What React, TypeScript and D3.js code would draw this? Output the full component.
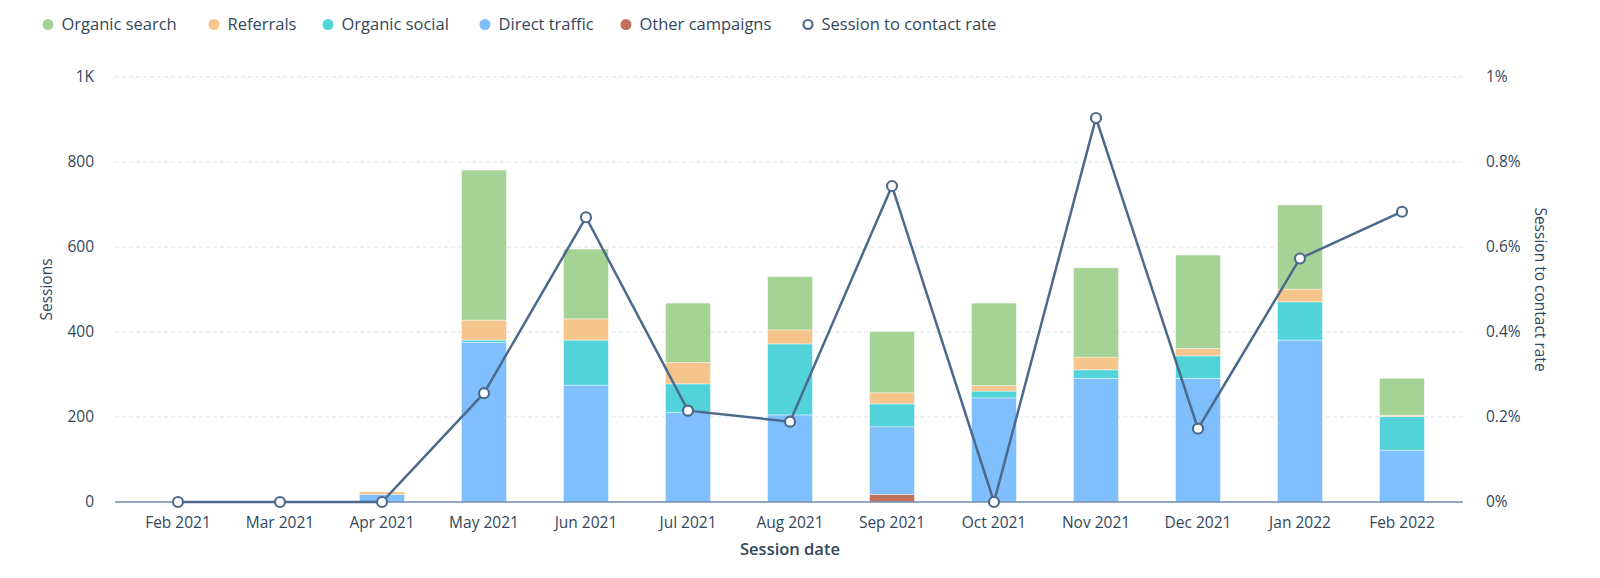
import React from "react";
import * as d3 from "d3";

const months = ["Feb 2021","Mar 2021","Apr 2021","May 2021","Jun 2021","Jul 2021","Aug 2021","Sep 2021","Oct 2021","Nov 2021","Dec 2021","Jan 2022","Feb 2022"];
const organicSearch = [0,0,0,353,164,140,125,144,194,210,220,198,87];
const referrals = [0,0,6,47,50,50,33,26,13,30,17,30,3];
const organicSocial = [0,0,0,6,106,67,167,54,16,20,53,90,79];
const directTraffic = [0,0,18,375,275,211,205,159,245,291,291,381,122];
const otherCampaigns = [0,0,0,0,0,0,0,18,0,0,0,0,0];
const contactRate = [0,0,0,0.256,0.670,0.215,0.189,0.7435,0,0.9035,0.1725,0.573,0.683];
const leftTicks = [0,200,400,600,800,1000];
const leftTickLabels = ["0","200","400","600","800","1K"];
const rightTicks = [0,0.2,0.4,0.6,0.8,1];
const rightTickLabels = ["0%","0.2%","0.4%","0.6%","0.8%","1%"];

const seriesKeys = ["other","direct","social","referrals","search"];
const colors: Record<string,string> = {search:"#a5d395",referrals:"#f5c58b",social:"#52d3d9",direct:"#80bffd",other:"#c3705c"};
const lineColor = "#4c6a8c";
const textColor = "#33475b";
const font = "'Open Sans', Lato, sans-serif";

const legendItems = [
  {name:"Organic search", color:colors.search, x:48},
  {name:"Referrals", color:colors.referrals, x:214},
  {name:"Organic social", color:colors.social, x:328},
  {name:"Direct traffic", color:colors.direct, x:485},
  {name:"Other campaigns", color:colors.other, x:626},
  {name:"Session to contact rate", color:lineColor, x:808, hollow:true},
];

export default function App() {
  const W = 1600, H = 578;
  const top = 77, bottom = 502;
  const gridL = 115, gridR = 1463;
  const x = d3.scaleBand<string>().domain(months).range([127, 1453]).paddingInner(0.56).paddingOuter(0.28);
  const yL = d3.scaleLinear().domain([0,1000]).range([bottom, top]);
  const yR = d3.scaleLinear().domain([0,1]).range([bottom, top]);
  const rows = months.map((m,i)=>({month:m, search:organicSearch[i], referrals:referrals[i], social:organicSocial[i], direct:directTraffic[i], other:otherCampaigns[i]}));
  const stacked = d3.stack<any>().keys(seriesKeys)(rows);
  const cx = (m:string)=> (x(m) as number) + x.bandwidth()/2;
  const line = d3.line<number>().x((_,i)=>cx(months[i])).y(d=>yR(d));

  return (
    <div style={{position:"absolute", left:0, top:0}}>
      <svg width={W} height={H} style={{display:"block", fontFamily:font}}>
        <rect width={W} height={H} fill="#fff"/>
        {legendItems.map(it=>(
          <g key={it.name}>
            {it.hollow ? <circle cx={it.x} cy={24.5} r={4.5} fill="#fff" stroke={it.color} strokeWidth={2.2}/> : <circle cx={it.x} cy={24.5} r={5.5} fill={it.color}/>}
            <text x={it.x+13.5} y={24.5} dy="0.35em" fontSize={16.5} fill={textColor}>{it.name}</text>
          </g>
        ))}
        {leftTicks.map((t,i)=> i===0 ? null : (
          <line key={t} x1={gridL} x2={gridR} y1={yL(t)} y2={yL(t)} stroke="#dbe1ea" strokeDasharray="4,3" strokeWidth={1}/>
        ))}
        {leftTicks.map((t,i)=>(
          <text key={"l"+t} x={94} y={yL(t)} dy="0.35em" textAnchor="end" fontSize={15.5} fill={textColor}>{leftTickLabels[i]}</text>
        ))}
        {rightTicks.map((t,i)=>(
          <text key={"r"+t} x={1486} y={yR(t)} dy="0.35em" textAnchor="start" fontSize={15.5} fill={textColor}>{rightTickLabels[i]}</text>
        ))}
        <text transform={`translate(47,${(top+bottom)/2}) rotate(-90)`} textAnchor="middle" dy="0.35em" fontSize={15.5} fill={textColor}>Sessions</text>
        <text transform={`translate(1540,${(top+bottom)/2}) rotate(90)`} textAnchor="middle" dy="0.35em" fontSize={15.5} fill={textColor}>Session to contact rate</text>
        {stacked.map(s=>(
          <g key={s.key} fill={colors[s.key]}>
            {s.map((d,i)=> d[1]-d[0] > 0 ? (
              <rect key={i} x={x(months[i])} width={x.bandwidth()} y={yL(d[1])} height={yL(d[0])-yL(d[1])} stroke="#ffffff" strokeOpacity={0.5} strokeWidth={0.8}/>
            ) : null)}
          </g>
        ))}
        <line x1={gridL} x2={gridR} y1={bottom} y2={bottom} stroke="#6f8bab" strokeWidth={1.5}/>
        {months.map(m=>(
          <text key={"x"+m} x={cx(m)} y={523} dy="0.35em" textAnchor="middle" fontSize={15.5} fill={textColor}>{m}</text>
        ))}
        <text x={790} y={549} dy="0.35em" textAnchor="middle" fontSize={16.5} fontWeight={600} fill={textColor}>Session date</text>
        <path d={line(contactRate) || ""} fill="none" stroke={lineColor} strokeWidth={2.5}/>
        {contactRate.map((v,i)=>(
          <circle key={"p"+i} cx={cx(months[i])} cy={yR(v)} r={5} fill="#fff" stroke={lineColor} strokeWidth={2.2}/>
        ))}
      </svg>
    </div>
  );
}
